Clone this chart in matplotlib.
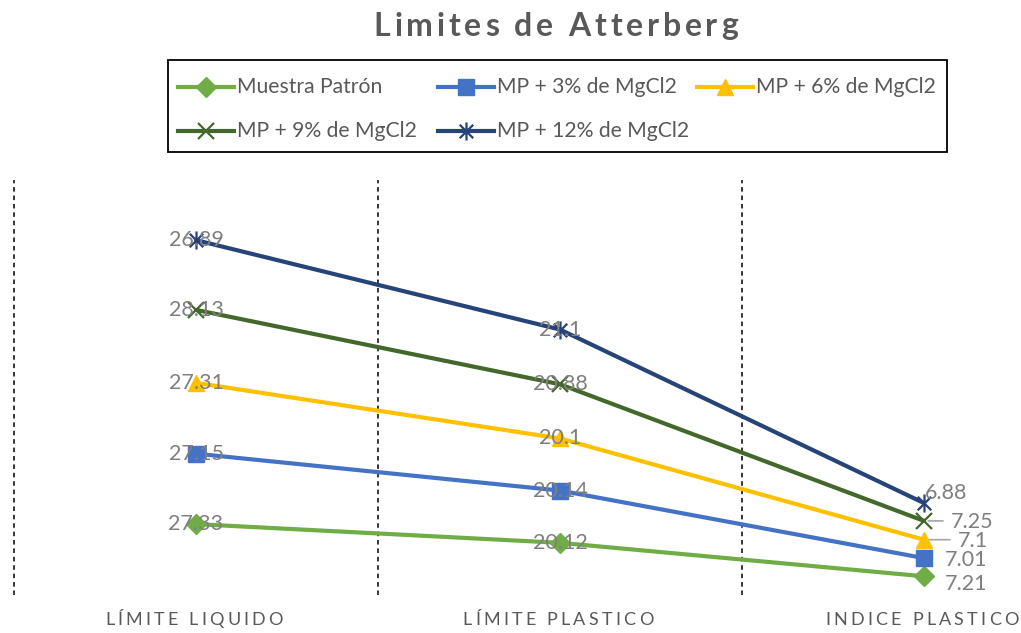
import matplotlib
matplotlib.use("Agg")
import matplotlib.pyplot as plt
from matplotlib.path import Path
from matplotlib.lines import Line2D
from matplotlib.patches import Rectangle
import numpy as np

plt.rcParams['font.family'] = ['Lato', 'DejaVu Sans']

categories = ["LÍMITE LIQUIDO", "LÍMITE PLASTICO", "INDICE PLASTICO"]
series_names = ["Muestra Patrón", "MP + 3% de MgCl2", "MP + 6% de MgCl2",
                "MP + 9% de MgCl2", "MP + 12% de MgCl2"]
muestra_patron = [27.33, 20.12, 7.21]
mp_3 = [27.15, 20.14, 7.01]
mp_6 = [27.31, 20.1, 7.1]
mp_9 = [28.13, 20.88, 7.25]
mp_12 = [26.89, 21.1, 6.88]
series_values = [muestra_patron, mp_3, mp_6, mp_9, mp_12]

colors = ["#70AD47", "#4472C4", "#FFC000", "#43682B", "#264478"]

# asterisk-style marker: vertical stroke plus an x
star_path = Path(
    [(0, -1), (0, 1), (-0.75, -0.75), (0.75, 0.75), (-0.75, 0.75), (0.75, -0.75)],
    [Path.MOVETO, Path.LINETO, Path.MOVETO, Path.LINETO, Path.MOVETO, Path.LINETO])

marker_specs = [
    dict(marker="D", ms=10, mfc=colors[0], mec=colors[0]),
    dict(marker="s", ms=11, mfc=colors[1], mec=colors[1]),
    dict(marker="^", ms=12, mfc=colors[2], mec=colors[2]),
    dict(marker="x", ms=12, mec=colors[3], mew=1.6),
    dict(marker=star_path, ms=13, mfc="none", mec=colors[4], mew=1.6),
]

W, H = 1021, 633
fig = plt.figure(figsize=(W / 100, H / 100), dpi=100)

# plot area spans beyond the right edge of the figure (fourth category boundary)
left_px, right_px, top_px, bottom_px = 14, 1106, 180, 595
ax = fig.add_axes([left_px / W, (H - bottom_px) / H,
                   (right_px - left_px) / W, (bottom_px - top_px) / H])
ax.set_xlim(-0.5, 2.5)
ax.set_ylim(0, 160)
ax.axis("off")

x = np.arange(len(categories))
for b in [-0.5, 0.5, 1.5, 2.5]:
    ax.plot([b, b], [0, 160], color="black", ls=(0, (3, 2.5)), lw=1.1,
            clip_on=False, zorder=1)

cum = np.zeros(len(categories))
cum_list = []
for vals in series_values:
    cum = cum + np.array(vals)
    cum_list.append(cum.copy())

label_color = "#7F7F7F"
for i, (vals, c) in enumerate(zip(series_values, colors)):
    ax.plot(x, cum_list[i], color=c, lw=3.0, zorder=2 + i,
            solid_capstyle="round", **marker_specs[i])

# values on the first two categories, centered on the points
for i, vals in enumerate(series_values):
    for j in range(2):
        ax.text(x[j], cum_list[i][j], f"{vals[j]:g}", ha="center", va="center",
                fontsize=15.5, color=label_color, zorder=20)

# values on the last category, offset to the right (pixels)
last_offsets = [(21, -8), (21, -2), (34, -1), (27, -1), (1, 10)]
leader = [False, False, True, True, False]
for i, vals in enumerate(series_values):
    dx, dy = last_offsets[i]
    ax.annotate(f"{vals[2]:g}", (x[2], cum_list[i][2]), xytext=(dx, dy),
                textcoords="offset pixels", ha="left", va="center",
                fontsize=15.5, color=label_color, zorder=20)
    if leader[i]:
        ax.annotate("", (x[2], cum_list[i][2]), xytext=(dx - 8, 0),
                    textcoords="offset pixels",
                    arrowprops=dict(arrowstyle="-", color="#A6A6A6", lw=1.2,
                                    shrinkA=0, shrinkB=3))


def spaced_text(s, cx, cy, spacing, **kw):
    """Draw text with extra letter spacing, centered at pixel (cx, cy from top)."""
    renderer = fig.canvas.get_renderer()
    widths = []
    for ch in s:
        t = fig.text(0, 0, ch if ch != " " else "a", **kw)
        bb = t.get_window_extent(renderer)
        t.remove()
        if ch == " ":
            tt = fig.text(0, 0, "a a", **kw)
            w3 = tt.get_window_extent(renderer).width
            tt.remove()
            tt = fig.text(0, 0, "aa", **kw)
            w2 = tt.get_window_extent(renderer).width
            tt.remove()
            widths.append(w3 - w2)
        else:
            widths.append(bb.width)
    total = sum(widths) + spacing * (len(s) - 1)
    xpos = cx - total / 2
    for ch, w in zip(s, widths):
        if ch != " ":
            fig.text(xpos / W, 1 - cy / H, ch, ha="left", va="center", **kw)
        xpos += w + spacing


spaced_text("Limites de Atterberg", 556, 26, 3.8,
            fontsize=23, fontweight="bold", color="#595959")

cat_centers = [194, 558, 922]
for name, cx in zip(categories, cat_centers):
    spaced_text(name, cx, 620, 3.2, fontsize=13, color="#595959")

# legend box
fig.patches.append(Rectangle((168 / W, 1 - 152 / H), (947 - 168) / W, (152 - 60) / H,
                             transform=fig.transFigure, fill=False,
                             edgecolor="black", lw=1.3))
legend_pos = [(178, 87), (438, 87), (697, 87), (178, 131), (438, 131)]
for i, (px, py) in enumerate(legend_pos):
    yy = 1 - py / H
    spec = dict(marker_specs[i])
    fig.lines.append(Line2D([px / W, (px + 28) / W, (px + 56) / W], [yy, yy, yy],
                            transform=fig.transFigure, color=colors[i], lw=3.0,
                            markevery=[1], **spec))
    fig.text((px + 59) / W, yy, series_names[i], ha="left", va="center",
             fontsize=15.2, color="#595959")

fig.savefig("out.png", dpi=100)
